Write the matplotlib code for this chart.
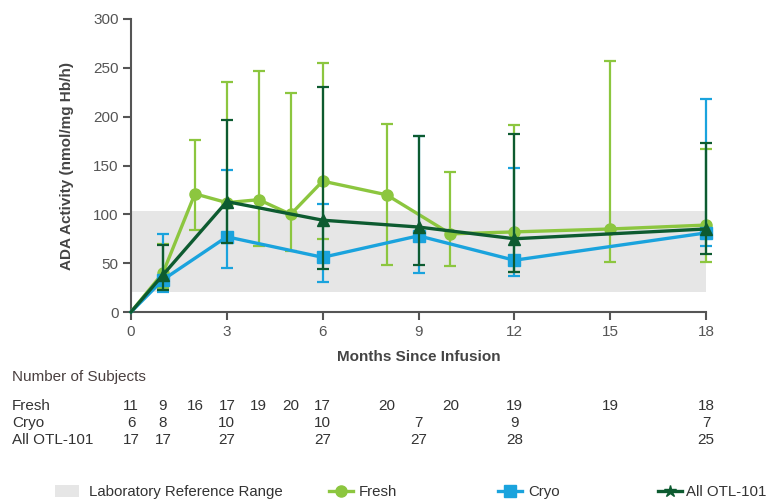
import numpy as np
import matplotlib.pyplot as plt
from matplotlib.patches import Patch
from matplotlib.lines import Line2D
from matplotlib.transforms import blended_transform_factory

plt.rcParams['font.family'] = ['Liberation Sans', 'DejaVu Sans']
plt.rcParams['font.size'] = 11

FRESH_C = '#8CC63F'
CRYO_C = '#1AA3DD'
ALL_C = '#0D5B30'
GREY = '#555555'

# mean ADA activity with lower / upper range per visit
fresh_months = [0, 1, 2, 3, 4, 5, 6, 8, 10, 12, 15, 18]
fresh_mean = [0, 40, 121, 112, 115, 100, 134, 120, 80, 82, 85, 89]
fresh_low = [0, 25, 84, 79, 68, 62, 75, 48, 47, 41, 51, 51]
fresh_high = [0, 70, 176, 236, 247, 224, 255, 193, 143, 191, 257, 167]

cryo_months = [0, 1, 3, 6, 9, 12, 18]
cryo_mean = [0, 33, 77, 56, 78, 53, 81]
cryo_low = [0, 20, 45, 31, 40, 37, 68]
cryo_high = [0, 80, 145, 111, 180, 147, 218]

all_months = [0, 1, 3, 6, 9, 12, 18]
all_mean = [0, 38, 113, 94, 87, 75, 85]
all_low = [0, 23, 71, 44, 48, 41, 59]
all_high = [0, 69, 197, 230, 180, 182, 173]

ref_low, ref_high = 20, 103

# number of subjects table
table_months = [0, 1, 2, 3, 4, 5, 6, 8, 9, 10, 12, 15, 18]
n_fresh = ['11', '9', '16', '17', '19', '20', '17', '20', '', '20', '19', '19', '18']
n_cryo = ['6', '8', '', '10', '', '', '10', '', '7', '', '9', '', '7']
n_all = ['17', '17', '', '27', '', '', '27', '', '27', '', '28', '', '25']

fig = plt.figure(figsize=(7.69, 5.04), dpi=100)
ax = fig.add_axes([131 / 769, 1 - 312 / 504, 575 / 769, 293 / 504])

ax.fill_between([0, 18], ref_low, ref_high, color='#E6E6E6', lw=0, zorder=1)


def draw_series(months, mean, low, high, color, marker, ms, z):
    m = np.array(months)
    y = np.array(mean, dtype=float)
    lo = y[1:] - np.array(low[1:])
    hi = np.array(high[1:]) - y[1:]
    ax.errorbar(m[1:], y[1:], yerr=[lo, hi], fmt='none', ecolor=color,
                elinewidth=1.6, capsize=4.5, capthick=1.6, zorder=z, clip_on=False)
    ax.plot(m, y, color=color, lw=2.4, marker=marker, ms=ms,
            markevery=list(range(1, len(m))), zorder=z + 0.5, clip_on=False)


draw_series(fresh_months, fresh_mean, fresh_low, fresh_high, FRESH_C, 'o', 8, 3)
draw_series(cryo_months, cryo_mean, cryo_low, cryo_high, CRYO_C, 's', 8, 4)
draw_series(all_months, all_mean, all_low, all_high, ALL_C, '^', 8, 5)

ax.set_xlim(0, 18)
ax.set_ylim(0, 300)
ax.set_xticks([0, 3, 6, 9, 12, 15, 18])
ax.set_yticks([0, 50, 100, 150, 200, 250, 300])
for side in ['top', 'right']:
    ax.spines[side].set_visible(False)
for side in ['left', 'bottom']:
    ax.spines[side].set_color(GREY)
    ax.spines[side].set_linewidth(1.5)
ax.tick_params(colors=GREY, length=6, width=1.5, labelsize=11, pad=3)
ax.set_ylabel('ADA Activity (nmol/mg Hb/h)', fontweight='bold', color='#444444',
              fontsize=11, labelpad=14)
ax.set_xlabel('Months Since Infusion', fontweight='bold', color='#444444',
              fontsize=11, labelpad=8)

# subjects table under the axis
trans = blended_transform_factory(ax.transData, fig.transFigure)
fig.text(12 / 769, 1 - 377 / 504, 'Number of Subjects', color='#4A4040',
         fontsize=11, va='center')
rows = [('Fresh', n_fresh, 406), ('Cryo', n_cryo, 423), ('All OTL-101', n_all, 440)]
for name, counts, ypx in rows:
    yf = 1 - ypx / 504
    fig.text(12 / 769, yf, name, color='#333333', fontsize=11, va='center')
    for mo, c in zip(table_months, counts):
        if c:
            fig.text(mo, yf, c, transform=trans, color='#333333', fontsize=11,
                     ha='center', va='center')

# legend entries, each placed on its own
leg_y = 1 - 492 / 504
leg_kw = dict(frameon=False, loc='center left', borderpad=0, borderaxespad=0,
              fontsize=10.8, labelcolor='#333333', handlelength=1.6,
              handleheight=0.9)
entries = [
    (Patch(facecolor='#E6E6E6', edgecolor='none'), 'Laboratory Reference Range', 55, 0.65),
    (Line2D([], [], color=FRESH_C, lw=2.4, marker='o', ms=8), 'Fresh', 329, 0.4),
    (Line2D([], [], color=CRYO_C, lw=2.4, marker='s', ms=8), 'Cryo', 498, 0.4),
    (Line2D([], [], color=ALL_C, lw=2.4, marker='*', ms=9), 'All OTL-101', 658, 0.3),
]
for handle, label, xpx, pad in entries:
    fig.legend(handles=[handle], labels=[label], bbox_to_anchor=(xpx / 769, leg_y),
               handletextpad=pad, **leg_kw)

fig.savefig('out.png', dpi=100)
